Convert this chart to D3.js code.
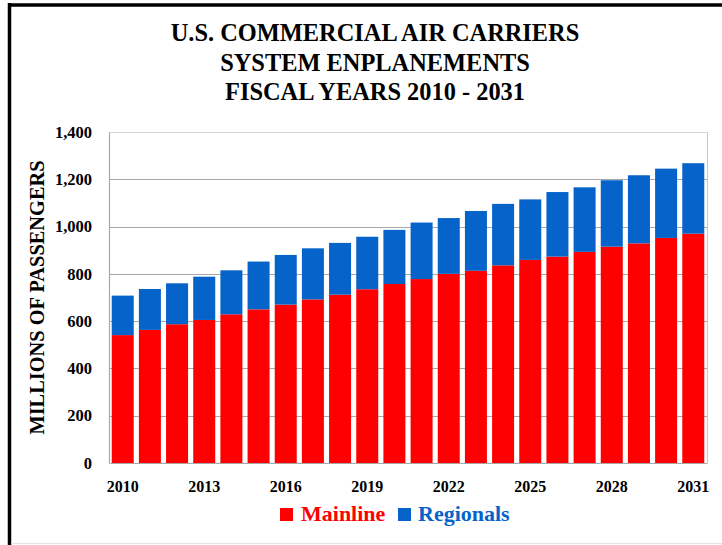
<!DOCTYPE html>
<html>
<head>
<meta charset="utf-8">
<script src="https://cdn.jsdelivr.net/npm/d3@7"></script>
<style>
  html, body { margin: 0; padding: 0; background: #fff; }
  svg { display: block; }
  text { font-family: "Liberation Serif", "Times New Roman", serif; font-weight: bold; }
</style>
</head>
<body>
<svg id="chart" width="722" height="545"></svg>
<script>
// Fiscal years and enplanements (millions of passengers)
const years = d3.range(2010, 2032);
const mainline = [541, 563, 587, 605, 629, 650, 670, 692, 712, 735, 757, 778,
                  800, 813, 836, 859, 873, 893, 915, 929, 952, 970];
const totals   = [708, 736, 760, 788, 815, 852, 880, 908, 931, 957, 986, 1017,
                  1036, 1066, 1096, 1115, 1146, 1166, 1196, 1217, 1245, 1268];
const regionals = totals.map((t, i) => t - mainline[i]);
const yTicks = [0, 200, 400, 600, 800, 1000, 1200, 1400];
const xTickYears = [2010, 2013, 2016, 2019, 2022, 2025, 2028, 2031];
const titleLines = ["U.S. COMMERCIAL AIR CARRIERS", "SYSTEM ENPLANEMENTS", "FISCAL YEARS 2010 - 2031"];
const seriesNames = ["Mainline", "Regionals"];
const colors = { Mainline: "#ff0000", Regionals: "#0563c9" };

const svg = d3.select("#chart");
const W = 722, H = 545;
const plot = { left: 109, right: 707, top: 132, bottom: 463 };

// frame
svg.append("rect").attr("x", 0).attr("y", 0).attr("width", W).attr("height", H).attr("fill", "#fff");
svg.append("line").attr("x1", 8).attr("x2", W).attr("y1", 5).attr("y2", 5)
  .attr("stroke", "#000").attr("stroke-width", 3.5);
svg.append("line").attr("x1", 9.5).attr("x2", 9.5).attr("y1", 3).attr("y2", H)
  .attr("stroke", "#000").attr("stroke-width", 3.5);
svg.append("line").attr("x1", 11).attr("x2", W).attr("y1", 543.5).attr("y2", 543.5)
  .attr("stroke", "#e4e4e4").attr("stroke-width", 1);

// title
svg.append("g").selectAll("text").data(titleLines).join("text")
  .attr("x", 375).attr("y", (d, i) => 41 + i * 29.5)
  .attr("text-anchor", "middle").attr("font-size", 24.4).attr("fill", "#000")
  .text(d => d);

const x = d3.scaleBand().domain(years).range([plot.left, plot.right]).paddingInner(0.19).paddingOuter(0.1);
const y = d3.scaleLinear().domain([0, 1400]).range([plot.bottom, plot.top]);

// gridlines
svg.append("g").selectAll("line").data(yTicks.filter(v => v > 0)).join("line")
  .attr("x1", plot.left).attr("x2", plot.right)
  .attr("y1", d => Math.round(y(d)) + 0.5).attr("y2", d => Math.round(y(d)) + 0.5)
  .attr("stroke", d => d === 1400 ? "#d4d4d4" : "#a8a8a8").attr("stroke-width", 1.2);
// plot area right edge
svg.append("line").attr("x1", plot.right + 0.5).attr("x2", plot.right + 0.5)
  .attr("y1", plot.top).attr("y2", plot.bottom).attr("stroke", "#c8c8c8");

// stacked bars
const stack = d3.stack().keys(seriesNames)(years.map((yr, i) => ({
  year: yr, Mainline: mainline[i], Regionals: regionals[i]
})));
svg.append("g").selectAll("g").data(stack).join("g")
  .attr("fill", d => colors[d.key])
  .selectAll("rect").data(d => d).join("rect")
  .attr("x", d => x(d.data.year))
  .attr("width", x.bandwidth())
  .attr("y", d => y(d[1]))
  .attr("height", d => y(d[0]) - y(d[1]));

// axes
const yAxis = d3.axisLeft(y).tickValues(yTicks).tickSize(0).tickPadding(17)
  .tickFormat(d3.format(","));
const gy = svg.append("g").attr("transform", `translate(${plot.left},0)`).call(yAxis);
gy.select(".domain").attr("stroke", "#a8a8a8").attr("stroke-width", 1.2);
gy.selectAll("text").attr("font-size", 16.5).attr("fill", "#000")
  .attr("font-family", "Liberation Serif, serif").attr("font-weight", "bold");

const xAxis = d3.axisBottom(x).tickValues(xTickYears).tickSize(0).tickPadding(18).tickFormat(d3.format("d"));
const gx = svg.append("g").attr("transform", `translate(0,${plot.bottom})`).call(xAxis);
gx.select(".domain").attr("stroke", "#a8a8a8").attr("stroke-width", 1.2);
gx.selectAll("text").attr("font-size", 16).attr("fill", "#000")
  .attr("font-family", "Liberation Serif, serif").attr("font-weight", "bold");

// y-axis title
svg.append("text")
  .attr("transform", `translate(44,${(plot.top + plot.bottom) / 2}) rotate(-90)`)
  .attr("text-anchor", "middle").attr("font-size", 20.4).attr("fill", "#000")
  .text("MILLIONS OF PASSENGERS");

// legend
const legend = [
  { name: "Mainline", sx: 280, tx: 301 },
  { name: "Regionals", sx: 398, tx: 418 }
];
const lg = svg.append("g");
lg.selectAll("rect").data(legend).join("rect")
  .attr("x", d => d.sx).attr("y", 508).attr("width", 13).attr("height", 13)
  .attr("fill", d => colors[d.name]);
lg.selectAll("text").data(legend).join("text")
  .attr("x", d => d.tx).attr("y", 521).attr("font-size", 22)
  .attr("fill", d => colors[d.name]).text(d => d.name);
</script>
</body>
</html>
